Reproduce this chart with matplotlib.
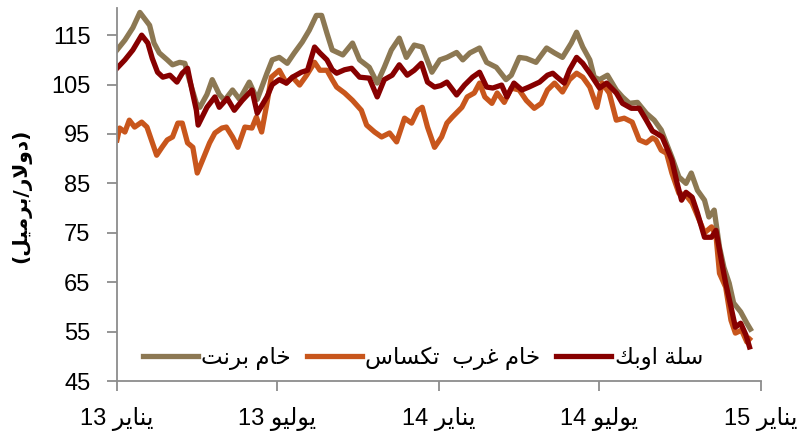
import matplotlib
matplotlib.use("Agg")
import matplotlib.pyplot as plt
import pandas as pd

plt.rcParams['font.family'] = ['Liberation Sans', 'DejaVu Sans']

# Arabic text pre-shaped (presentation forms, visual order)
lbl_brent = "\uFE96\uFEE7\uFEAE\uFE91 \uFEE1\uFE8E\uFEA7"
lbl_wti = "\uFEB1\uFE8E\uFEB4\uFEDC\uFE97  \uFE8F\uFEAE\uFECF \uFEE1\uFE8E\uFEA7"
lbl_opec = "\uFEDA\uFE91\uFEED\uFE8D \uFE94\uFEE0\uFEB3"
ylabel = "(\uFEDE\uFEF4\uFEE3\uFEAE\uFE91/\uFEAD\uFEFB\uFEED\uFEA9)"
jan = "\uFEAE\uFEF3\uFE8E\uFEE8\uFEF3"
jul = "\uFEEE\uFEF4\uFEDF\uFEEE\uFEF3"

tick_dates = ["2013-01-01", "2013-07-01", "2014-01-01", "2014-07-01", "2015-01-01"]
tick_labels = ["13 " + jan, "13 " + jul, "14 " + jan, "14 " + jul, "15 " + jan]
y_ticks = [45, 55, 65, 75, 85, 95, 105, 115]

brent_dates = ["2013-01-01", "2013-01-10", "2013-01-19", "2013-01-27", "2013-02-07", "2013-02-12",
               "2013-02-18", "2013-02-27", "2013-03-05", "2013-03-13", "2013-03-19", "2013-03-24",
               "2013-04-01", "2013-04-05", "2013-04-13", "2013-04-19", "2013-04-27", "2013-05-03",
               "2013-05-12", "2013-05-20", "2013-05-31", "2013-06-09", "2013-06-20", "2013-06-26",
               "2013-07-04", "2013-07-13", "2013-07-21", "2013-07-30", "2013-08-07", "2013-08-15",
               "2013-08-21", "2013-08-27", "2013-09-02", "2013-09-14", "2013-09-25", "2013-10-03",
               "2013-10-14", "2013-10-23", "2013-10-31", "2013-11-08", "2013-11-17", "2013-11-25",
               "2013-12-04", "2013-12-13", "2013-12-24", "2014-01-02", "2014-01-10", "2014-01-21",
               "2014-01-28", "2014-02-05", "2014-02-16", "2014-02-24", "2014-03-07", "2014-03-18",
               "2014-03-24", "2014-04-02", "2014-04-10", "2014-04-21", "2014-05-03", "2014-05-12",
               "2014-05-21", "2014-05-31", "2014-06-06", "2014-06-13", "2014-06-21", "2014-06-26",
               "2014-07-02", "2014-07-11", "2014-07-21", "2014-07-28", "2014-08-05", "2014-08-14",
               "2014-08-24", "2014-09-02", "2014-09-10", "2014-09-13", "2014-09-22", "2014-09-30",
               "2014-10-08", "2014-10-14", "2014-10-21", "2014-10-29", "2014-11-03", "2014-11-09",
               "2014-11-15", "2014-11-20", "2014-11-26", "2014-12-01", "2014-12-09", "2014-12-16",
               "2014-12-20"]
brent = [112.0, 114.0, 116.5, 119.6, 117.0, 113.4,
         111.4, 110.0, 109.0, 109.5, 109.3, 106.0,
         101.2, 100.4, 103.0, 106.0, 103.0, 101.8,
         103.9, 102.0, 105.5, 102.0, 107.3, 110.0,
         110.5, 109.3, 111.4, 113.6, 116.0, 119.0,
         119.0, 115.4, 112.0, 111.0, 113.4, 110.0,
         108.5, 105.3, 108.5, 112.0, 114.4, 110.5,
         113.0, 112.6, 107.5, 110.0, 110.5, 111.5,
         110.0, 111.4, 112.4, 109.5, 108.5, 106.0,
         106.9, 110.5, 110.3, 109.5, 112.4, 111.4,
         110.5, 113.4, 115.6, 112.6, 110.0, 106.5,
         106.0, 106.9, 103.9, 102.5, 101.2, 101.4,
         99.2, 97.8, 95.8, 94.4, 90.3, 86.3,
         85.0, 87.1, 83.6, 81.6, 78.2, 79.6,
         72.1, 68.0, 64.8, 60.8, 59.0, 56.7,
         55.5]

wti_dates = ["2013-01-01", "2013-01-04", "2013-01-10", "2013-01-15", "2013-01-21", "2013-01-29",
             "2013-02-04", "2013-02-09", "2013-02-15", "2013-02-21", "2013-02-27", "2013-03-05",
             "2013-03-11", "2013-03-16", "2013-03-22", "2013-03-28", "2013-04-02", "2013-04-08",
             "2013-04-16", "2013-04-22", "2013-04-30", "2013-05-05", "2013-05-12", "2013-05-18",
             "2013-05-26", "2013-06-03", "2013-06-08", "2013-06-14", "2013-06-20", "2013-06-25",
             "2013-07-04", "2013-07-12", "2013-07-19", "2013-07-27", "2013-08-04", "2013-08-13",
             "2013-08-19", "2013-08-27", "2013-09-02", "2013-09-07", "2013-09-16", "2013-09-25",
             "2013-10-05", "2013-10-11", "2013-10-20", "2013-10-28", "2013-11-06", "2013-11-14",
             "2013-11-23", "2013-12-01", "2013-12-08", "2013-12-13", "2013-12-19", "2013-12-27",
             "2014-01-04", "2014-01-10", "2014-01-16", "2014-01-27", "2014-02-02", "2014-02-10",
             "2014-02-16", "2014-02-22", "2014-03-02", "2014-03-08", "2014-03-16", "2014-03-24",
             "2014-04-02", "2014-04-10", "2014-04-19", "2014-04-27", "2014-05-04", "2014-05-12",
             "2014-05-21", "2014-05-29", "2014-06-06", "2014-06-13", "2014-06-21", "2014-06-29",
             "2014-07-05", "2014-07-13", "2014-07-21", "2014-07-30", "2014-08-08", "2014-08-16",
             "2014-08-24", "2014-08-31", "2014-09-04", "2014-09-10", "2014-09-16", "2014-09-22",
             "2014-09-30", "2014-10-08", "2014-10-15", "2014-10-23", "2014-10-29", "2014-11-06",
             "2014-11-11", "2014-11-15", "2014-11-22", "2014-11-28", "2014-12-03", "2014-12-10",
             "2014-12-16", "2014-12-19"]
wti = [93.8, 96.2, 95.4, 97.8, 96.4, 97.4,
       96.4, 93.8, 90.7, 92.3, 93.8, 94.4,
       97.2, 97.2, 93.2, 92.3, 87.1, 89.7,
       93.2, 95.2, 96.2, 96.4, 94.4, 92.3,
       96.4, 96.2, 98.4, 95.4, 101.2, 106.5,
       107.9, 105.3, 106.5, 104.9, 106.9, 109.5,
       107.9, 107.9, 106.0, 104.5, 103.3, 101.8,
       99.8, 96.8, 95.4, 94.4, 95.2, 93.4,
       98.2, 97.2, 99.8, 100.4, 96.4, 92.3,
       94.4, 97.2, 98.4, 100.4, 102.5, 103.3,
       105.3, 102.5, 101.2, 103.3, 101.4, 104.3,
       103.9, 101.8, 100.2, 101.2, 103.9, 105.3,
       103.5, 106.0, 107.3, 106.5, 104.5, 100.4,
       105.3, 103.3, 97.8, 98.2, 97.4, 93.8,
       93.2, 94.2, 93.8, 91.7, 91.1, 87.1,
       83.0, 82.6, 81.0, 77.6, 75.0, 76.2,
       74.5, 66.8, 64.0, 57.3, 54.7, 55.3,
       52.9, 53.5]

opec_dates = ["2013-01-01", "2013-01-10", "2013-01-19", "2013-01-29", "2013-02-05", "2013-02-10",
              "2013-02-16", "2013-02-22", "2013-03-02", "2013-03-10", "2013-03-16", "2013-03-22",
              "2013-03-27", "2013-04-01", "2013-04-03", "2013-04-13", "2013-04-22", "2013-04-27",
              "2013-05-06", "2013-05-14", "2013-05-23", "2013-06-03", "2013-06-09", "2013-06-20",
              "2013-06-26", "2013-07-04", "2013-07-12", "2013-07-19", "2013-07-29", "2013-08-05",
              "2013-08-13", "2013-08-19", "2013-08-27", "2013-09-02", "2013-09-07", "2013-09-16",
              "2013-09-24", "2013-10-03", "2013-10-14", "2013-10-23", "2013-10-31", "2013-11-09",
              "2013-11-17", "2013-11-26", "2013-12-04", "2013-12-12", "2013-12-19", "2013-12-27",
              "2014-01-03", "2014-01-10", "2014-01-21", "2014-01-30", "2014-02-08", "2014-02-16",
              "2014-02-24", "2014-03-03", "2014-03-13", "2014-03-19", "2014-03-27", "2014-04-05",
              "2014-04-13", "2014-04-25", "2014-05-04", "2014-05-10", "2014-05-15", "2014-05-23",
              "2014-05-29", "2014-06-06", "2014-06-13", "2014-06-21", "2014-07-02", "2014-07-10",
              "2014-07-21", "2014-07-28", "2014-08-07", "2014-08-16", "2014-08-24", "2014-08-31",
              "2014-09-04", "2014-09-11", "2014-09-16", "2014-09-22", "2014-09-28", "2014-10-03",
              "2014-10-08", "2014-10-15", "2014-10-21", "2014-10-29", "2014-11-06", "2014-11-11",
              "2014-11-17", "2014-11-22", "2014-11-28", "2014-12-03", "2014-12-09", "2014-12-15",
              "2014-12-19"]
opec = [108.3, 110.0, 112.0, 115.0, 113.4, 110.3,
        107.5, 106.5, 106.9, 105.5, 107.3, 108.3,
        103.9, 99.8, 96.8, 100.4, 102.5, 100.4,
        102.2, 99.8, 101.8, 103.9, 99.2, 102.5,
        105.0, 106.0, 105.3, 106.5, 107.5, 107.9,
        112.6, 111.4, 110.0, 108.0, 107.3, 108.0,
        108.3, 106.5, 106.3, 102.5, 106.0, 106.9,
        109.0, 106.9, 107.9, 109.3, 105.5, 104.5,
        104.8, 105.5, 102.9, 104.9, 106.5, 107.5,
        104.5, 104.3, 104.9, 102.5, 105.3, 103.9,
        104.5, 105.5, 106.9, 107.3, 106.5, 105.3,
        108.0, 110.5, 109.3, 107.3, 104.3, 105.3,
        103.3, 101.2, 100.2, 100.2, 97.8, 95.6,
        95.2, 94.4, 92.3, 89.7, 85.0, 81.6,
        83.2, 82.2, 79.0, 74.1, 74.1, 75.5,
        69.5, 64.8, 60.0, 55.9, 56.7, 54.3,
        51.9]

c_brent = "#8c7853"
c_wti = "#c8561c"
c_opec = "#870000"
axis_color = "#8c8c8c"

fig = plt.figure(figsize=(8.05, 4.32), dpi=100)
ax = fig.add_axes([0.1453, 0.118, 0.80, 0.8635])

lw = 3.8
ax.plot(pd.to_datetime(brent_dates), brent, color=c_brent, lw=lw, label=lbl_brent, solid_joinstyle='round')
ax.plot(pd.to_datetime(wti_dates), wti, color=c_wti, lw=lw, label=lbl_wti, solid_joinstyle='round')
ax.plot(pd.to_datetime(opec_dates), opec, color=c_opec, lw=lw, label=lbl_opec, solid_joinstyle='round')

ax.set_xlim(pd.Timestamp("2013-01-01"), pd.Timestamp("2015-01-01"))
ax.set_ylim(45, 120.5)
ax.set_yticks(y_ticks)
ax.set_xticks(pd.to_datetime(tick_dates))
ax.set_xticklabels(tick_labels)

for s in ["top", "right"]:
    ax.spines[s].set_visible(False)
for s in ["left", "bottom"]:
    ax.spines[s].set_color(axis_color)
    ax.spines[s].set_linewidth(1.3)

ax.tick_params(axis='y', direction='out', length=7, width=1.3, color=axis_color,
               labelsize=17, pad=12, labelcolor='black')
ax.tick_params(axis='x', direction='out', length=7, width=1.3, color=axis_color,
               labelsize=17, pad=12, labelcolor='black')

fig.text(0.027, 0.546, ylabel, rotation=90, ha='center', va='center',
         fontsize=14.5, fontweight='bold', family=['DejaVu Sans'])

leg = ax.legend(loc='center left', bbox_to_anchor=(0.04, 0.062), ncol=3, frameon=False,
                fontsize=16.5, handlelength=2.4, handletextpad=0.15, columnspacing=0.7,
                borderaxespad=0, borderpad=0)

fig.savefig("out.png", dpi=100)
